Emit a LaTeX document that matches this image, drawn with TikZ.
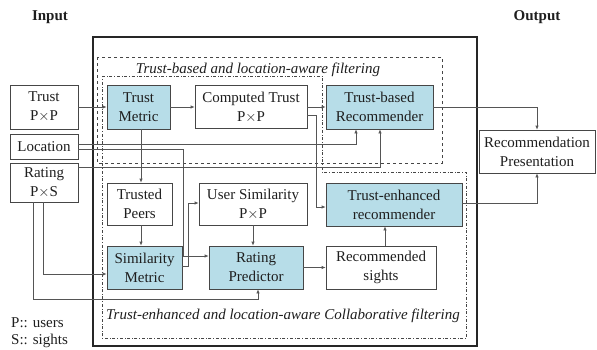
\documentclass[tikz,border=0pt]{standalone}
\usepackage{fontspec}
\setmainfont{Liberation Serif}
\usetikzlibrary{arrows.meta}
\definecolor{boxfill}{RGB}{183,221,232}
\definecolor{edge}{RGB}{70,70,70}
\definecolor{wire}{RGB}{85,85,85}
\definecolor{ink}{RGB}{30,30,30}
\tikzset{
  blk/.style={draw=edge, line width=0.7pt, rectangle, align=center, text=ink,
    inner sep=0pt, font=\fontsize{15}{19}\selectfont},
  fblk/.style={blk, fill=boxfill},
  arr/.style={draw=wire, line width=0.7pt, -{Latex[length=4pt,width=3.5pt]}},
  lbl/.style={text=ink, font=\fontsize{15}{19}\selectfont\itshape, inner sep=0pt},
  hdr/.style={text=ink, font=\fontsize{15}{19}\selectfont\bfseries, inner sep=0pt},
  note/.style={text=ink, font=\fontsize{15}{19}\selectfont, inner sep=0pt, anchor=west}
}
\begin{document}
\begin{tikzpicture}[x=1pt,y=-1pt]
\useasboundingbox (0,0) rectangle (597,349);
% frames
\draw[line width=1.5pt, draw=black!85] (93,37) rectangle (477,346);
\draw[dashed, line width=0.6pt, draw=edge] (97,57) rectangle (442,163);
\draw[dash dot, line width=0.6pt, draw=edge] (102,76) -- (322,76) -- (322,172) -- (466,172) -- (466,338) -- (102,338) -- cycle;
% headers
\node[hdr] (hin) at (50,17) {Input};
\node[hdr] (hout) at (537,17) {Output};
\node[lbl] (l1) at (258,70) {Trust-based and location-aware filtering};
\node[lbl] (l2) at (283,316) {Trust-enhanced and location-aware Collaborative filtering};
\node[note] (n1) at (11,323) {P:: users};
\node[note] (n2) at (11,341) {S:: sights};
% nodes
\node[blk, minimum width=68pt, minimum height=44pt] (trust) at (44,107) {Trust\\P$\times$P};
\node[blk, minimum width=68pt, minimum height=25pt] (loc) at (44,146.5) {Location};
\node[blk, minimum width=68pt, minimum height=39pt] (rating) at (44,182.5) {Rating\\P$\times$S};
\node[fblk, minimum width=63pt, minimum height=44pt] (tm) at (138.5,107) {Trust\\Metric};
\node[blk, minimum width=112pt, minimum height=43pt] (ct) at (251,107) {Computed Trust\\P$\times$P};
\node[fblk, minimum width=107pt, minimum height=44pt] (tbr) at (379.5,107) {Trust-based\\Recommender};
\node[blk, minimum width=116pt, minimum height=43pt] (rp) at (537,151.5) {Recommendation\\Presentation};
\node[blk, minimum width=65pt, minimum height=42pt] (tp) at (139.5,204) {Trusted\\Peers};
\node[blk, minimum width=108pt, minimum height=42pt] (us) at (253,204) {User Similarity\\P$\times$P};
\node[fblk, minimum width=136pt, minimum height=43pt] (ter) at (394,204.5) {Trust-enhanced\\recommender};
\node[fblk, minimum width=75pt, minimum height=43pt] (sm) at (144.5,267.5) {Similarity\\Metric};
\node[fblk, minimum width=94pt, minimum height=43pt] (rpred) at (256,267.5) {Rating\\Predictor};
\node[blk, minimum width=110pt, minimum height=43pt] (rs) at (381,267.5) {Recommended\\sights};
% routing coordinates
\coordinate (x141) at (141,0);
\coordinate (x356) at (356,0);
\coordinate (x380) at (380,0);
\coordinate (x385) at (385,0);
\coordinate (x253) at (253,0);
\coordinate (a1) at (183,256);
\coordinate (b1) at (43,274);
\coordinate (c1) at (33,299);
\coordinate (c2) at (258,299);
\coordinate (d1) at (188,266);
\coordinate (d2) at (188,203);
\coordinate (e1) at (316,115);
\coordinate (e2) at (316,207);
% connectors
\draw[arr] (trust) -- (tm);
\draw[arr] (tm) -- (tm -| ct.west);
\draw[arr] (ct.east |- tbr) -- (tbr);
\draw[arr] (tbr.east) -| (rp.north);
\draw[arr] ([yshift=2.5pt]loc.east) -| (tbr.south -| x356);
\draw[arr] ([yshift=-2.5pt]loc.east) -| (a1) -- (a1 -| rpred.west);
\draw[arr] ([yshift=15.5pt]rating.east) -| (tbr.south -| x380);
\draw[arr] (rating.south -| b1) |- (b1 -| sm.west);
\draw[arr] (rating.south -| c1) |- (c2) -- (rpred.south -| c2);
\draw[arr] (tm.south -| x141) -- (tp.north -| x141);
\draw[arr] (tp.south -| x141) -- (sm.north -| x141);
\draw[arr] (sm.east |- d1) -- (d1) -- (d2) -- (d2 -| us.west);
\draw[arr] (us.south -| x253) -- (rpred.north -| x253);
\draw[arr] (rpred) -- (rs);
\draw[arr] (rs.north -| x385) -- (ter.south -| x385);
\draw[arr] (ter.east |- d2) -| (rp.south);
\draw[arr] (ct.east |- e1) -- (e1) -- (e2) -- (e2 -| ter.west);
\end{tikzpicture}
\end{document}
